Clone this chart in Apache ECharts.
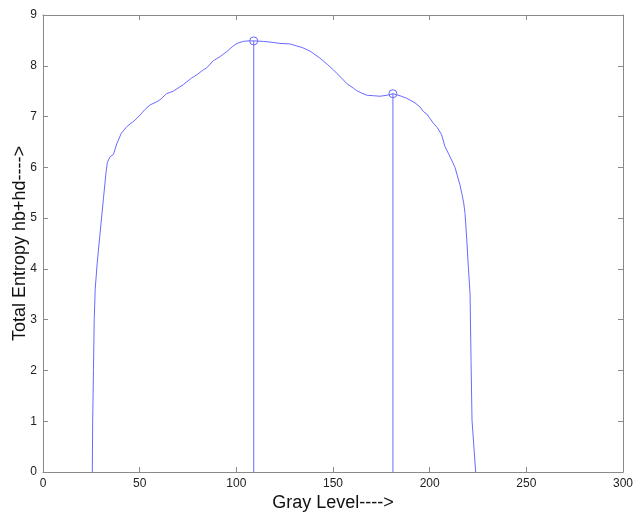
<!DOCTYPE html>
<html>
<head>
<meta charset="utf-8">
<script src="https://cdn.jsdelivr.net/npm/echarts@6/dist/echarts.min.js"></script>
<style>
  html, body { margin: 0; padding: 0; background: #fff; }
  #chart { width: 633px; height: 518px; }
</style>
</head>
<body>
<div id="chart"></div>
<script>
// Gray level (threshold) and total entropy hb+hd at that level
const grayLevels = [
  25.5, 25.7, 26.1, 26.5, 27.0, 28.0, 29.5, 31.2, 32.6, 33.3,
  34.7, 36.4, 38.1, 40.5, 43.3, 47.6, 50.2, 52.5, 55.4, 58.8,
  60.5, 63.9, 67.4, 72.6, 76.9, 79.5, 82.9, 84.7, 88.1, 91.6,
  95.1, 98.4, 100.3, 103.6, 106, 109, 114, 119, 122.6, 127.8,
  131.2, 134, 138.1, 143.3, 147, 150.2, 155.4, 157.1, 160.5, 162.3,
  164.9, 167.5, 171, 174.3, 178, 181, 184.7, 188.1, 192.4, 195,
  196.7, 198.5, 201.9, 204, 206.2, 207.9, 210, 213.1, 215.7, 216.6,
  217.6, 218.3, 219.2, 220, 220.9, 221.4, 221.9, 222.6, 223.8
];
const totalEntropy = [
  0, 1.0, 2.0, 3.0, 3.6, 4.1, 4.7, 5.36, 5.9, 6.1,
  6.21, 6.25, 6.46, 6.67, 6.80, 6.93, 7.03, 7.13, 7.23, 7.29,
  7.33, 7.45, 7.50, 7.63, 7.76, 7.82, 7.92, 7.96, 8.10, 8.18,
  8.28, 8.39, 8.44, 8.48, 8.49, 8.49, 8.48, 8.46, 8.44, 8.43,
  8.39, 8.36, 8.29, 8.15, 8.03, 7.92, 7.72, 7.65, 7.56, 7.51,
  7.46, 7.42, 7.41, 7.40, 7.42, 7.45, 7.41, 7.36, 7.27, 7.19,
  7.10, 7.05, 6.87, 6.78, 6.64, 6.41, 6.25, 6.0, 5.65, 5.49,
  5.3, 5.09, 4.57, 4.04, 3.5, 2.2, 1.02, 0.99, 0
];

// Selected thresholds (local maxima of the entropy curve)
const peakLevels = [109, 181];
const peakEntropy = [8.49, 7.45];

// Axis ticks
const xTicks = [0, 50, 100, 150, 200, 250, 300];
const yTicks = [0, 1, 2, 3, 4, 5, 6, 7, 8, 9];

const FONT = 'Liberation Sans, Arial, sans-serif';
const BLUE = '#6a6aff';
const AXIS_GRAY = '#8a8a8a';

const curve = grayLevels.map((g, i) => [g, totalEntropy[i]]);

const axisCommon = {
  type: 'value',
  axisLine: { show: true, onZero: false, lineStyle: { color: AXIS_GRAY, width: 1 } },
  axisTick: { show: true, inside: true, length: 5, lineStyle: { color: AXIS_GRAY } },
  splitLine: { show: false }
};

const stems = peakLevels.map((p, i) => ({
  type: 'line',
  data: [
    { value: [p, 0], symbol: 'none' },
    { value: [p, peakEntropy[i]], symbol: 'circle', symbolSize: 8 }
  ],
  lineStyle: { color: BLUE, width: 1 },
  itemStyle: { color: 'rgba(0,0,0,0)', borderColor: BLUE, borderWidth: 1 },
  showSymbol: true,
  animation: false,
  silent: true,
  z: 3
}));

const chart = echarts.init(document.getElementById('chart'), null, { renderer: 'canvas' });
chart.setOption({
  backgroundColor: '#ffffff',
  animation: false,
  grid: { left: 43, top: 15, right: 10, bottom: 46, containLabel: false, outerBoundsMode: 'none' },
  xAxis: [
    Object.assign({}, axisCommon, {
      position: 'bottom',
      min: xTicks[0], max: xTicks[xTicks.length - 1], interval: 50,
      axisLabel: { color: '#222', fontSize: 12, fontFamily: FONT, margin: 6 },
      name: 'Gray Level---->',
      nameLocation: 'middle',
      nameGap: 22,
      nameMoveOverlap: false,
      nameTextStyle: { color: '#111', fontSize: 18, fontFamily: FONT }
    }),
    Object.assign({}, axisCommon, {
      position: 'top',
      min: xTicks[0], max: xTicks[xTicks.length - 1], interval: 50,
      axisLabel: { show: false }
    })
  ],
  yAxis: [
    Object.assign({}, axisCommon, {
      position: 'left',
      min: yTicks[0], max: yTicks[yTicks.length - 1], interval: 1,
      axisLabel: { color: '#222', fontSize: 12, fontFamily: FONT, margin: 6 },
      name: 'Total Entropy hb+hd---->',
      nameLocation: 'middle',
      nameGap: 14,
      nameMoveOverlap: false,
      nameTextStyle: { color: '#111', fontSize: 18, fontFamily: FONT }
    }),
    Object.assign({}, axisCommon, {
      position: 'right',
      min: yTicks[0], max: yTicks[yTicks.length - 1], interval: 1,
      axisLabel: { show: false }
    })
  ],
  series: [
    {
      type: 'line',
      data: curve,
      showSymbol: false,
      lineStyle: { color: BLUE, width: 1 },
      animation: false,
      silent: true,
      z: 2
    }
  ].concat(stems)
});
</script>
</body>
</html>
